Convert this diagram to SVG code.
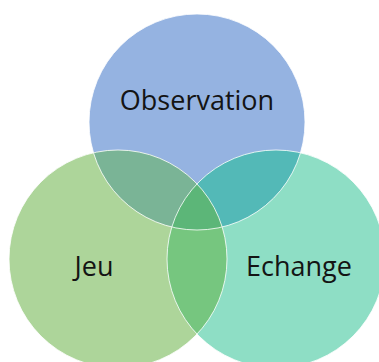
<svg xmlns="http://www.w3.org/2000/svg" width="379" height="362" viewBox="0 0 379 362">
<style>
.lbl{font-family:"Open Sans","Liberation Sans",sans-serif;font-size:27px;fill:#141414;text-anchor:middle}
.edge{fill:none;stroke:#ffffff;stroke-opacity:0.8;stroke-width:1}
</style>
<defs>
<clipPath id="cT"><circle cx="197" cy="122" r="108"/></clipPath>
<clipPath id="cL"><circle cx="118" cy="259" r="109"/></clipPath>
<clipPath id="cR"><circle cx="276" cy="259" r="109"/></clipPath>
</defs>
<rect width="379" height="362" fill="#ffffff"/>
<g id="observation"><circle cx="197" cy="122" r="108" fill="#95B3E1"/></g>
<g id="jeu"><circle cx="118" cy="259" r="109" fill="#ADD59A"/></g>
<g id="echange"><circle cx="276" cy="259" r="109" fill="#8EDEC5"/></g>
<g id="overlaps">
<g clip-path="url(#cT)"><circle cx="118" cy="259" r="109" fill="#7AB496"/><circle cx="276" cy="259" r="109" fill="#53B9B7"/></g>
<g clip-path="url(#cL)"><circle cx="276" cy="259" r="109" fill="#76C67F"/></g>
<g clip-path="url(#cL)"><g clip-path="url(#cR)"><circle cx="197" cy="122" r="108" fill="#5CB678"/></g></g>
</g>
<g id="edges">
<circle class="edge" cx="197" cy="122" r="108"/>
<circle class="edge" cx="118" cy="259" r="109"/>
<circle class="edge" cx="276" cy="259" r="109"/>
</g>
<text class="lbl" x="197" y="110">Observation</text>
<text class="lbl" x="94" y="276">Jeu</text>
<text class="lbl" x="299" y="276">Echange</text>
</svg>
